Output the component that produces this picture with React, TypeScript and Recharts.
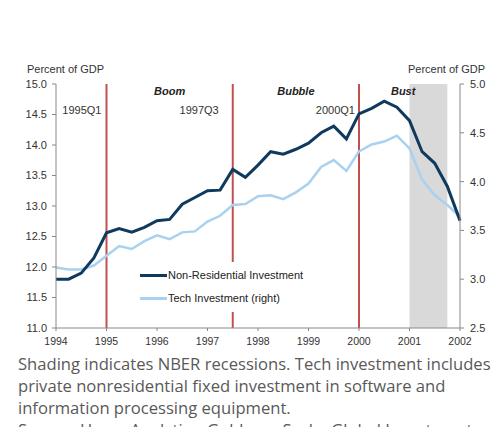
import React from 'react';
import {
  ComposedChart,
  Line,
  XAxis,
  YAxis,
  ReferenceLine,
  ReferenceArea,
} from 'recharts';

// quarterly observations, 1994Q1 - 2002Q1
const quarters = [
  '1994Q1', '1994Q2', '1994Q3', '1994Q4',
  '1995Q1', '1995Q2', '1995Q3', '1995Q4',
  '1996Q1', '1996Q2', '1996Q3', '1996Q4',
  '1997Q1', '1997Q2', '1997Q3', '1997Q4',
  '1998Q1', '1998Q2', '1998Q3', '1998Q4',
  '1999Q1', '1999Q2', '1999Q3', '1999Q4',
  '2000Q1', '2000Q2', '2000Q3', '2000Q4',
  '2001Q1', '2001Q2', '2001Q3', '2001Q4',
  '2002Q1',
];

// Non-residential investment, % of GDP (left axis)
const nonResidential = [
  11.8, 11.8, 11.9, 12.15,
  12.56, 12.63, 12.57, 12.65,
  12.76, 12.78, 13.03, 13.14,
  13.25, 13.26, 13.6, 13.47,
  13.67, 13.89, 13.85, 13.93,
  14.03, 14.2, 14.31, 14.1,
  14.51, 14.6, 14.72, 14.62,
  14.4, 13.89, 13.7, 13.32,
  12.76,
];

// Tech investment, % of GDP (right axis)
const techInvestment = [
  3.12, 3.1, 3.1, 3.14,
  3.24, 3.34, 3.31, 3.39,
  3.45, 3.41, 3.48, 3.49,
  3.59, 3.65, 3.76, 3.77,
  3.85, 3.86, 3.82, 3.89,
  3.98, 4.15, 4.22, 4.11,
  4.31, 4.38, 4.41, 4.47,
  4.34, 4.02, 3.86, 3.76,
  3.64,
];

const yearTicks = [1994, 1995, 1996, 1997, 1998, 1999, 2000, 2001, 2002];
const leftTicks = [11.0, 11.5, 12.0, 12.5, 13.0, 13.5, 14.0, 14.5, 15.0];
const rightTicks = [2.5, 3.0, 3.5, 4.0, 4.5, 5.0];

const events = ['1995Q1', '1997Q3', '2000Q1'];
const phases = [
  { name: 'Boom', from: '1995Q1', to: '1997Q3' },
  { name: 'Bubble', from: '1997Q3', to: '2000Q1' },
  { name: 'Bust', from: '2000Q1', to: '2001Q4' },
];
const recession = { from: '2001Q1', to: '2001Q4' };

const captionLines = [
  'Shading indicates NBER recessions. Tech investment includes',
  'private nonresidential fixed investment in software and',
  'information processing equipment.',
  'Source: Haver Analytics, Goldman Sachs Global Investment',
];

// how far the event labels sit to the left of their line
const eventLabelGap: Record<string, number> = { '1995Q1': 5, '1997Q3': 14, '2000Q1': 4 };

const toYear = (q: string) => Number(q.slice(0, 4)) + (Number(q.slice(5)) - 1) / 4;

const data = quarters.map((q, i) => ({
  t: toYear(q),
  nonRes: nonResidential[i],
  tech: techInvestment[i],
}));

const FONT = '"Liberation Sans", Arial, sans-serif';
const DARK = '#0f3a5e';
const LIGHT = '#a9d1f0';
const RED = '#c0504d';
const AXIS = '#888888';

const tickStyle = { fill: '#333', fontSize: 11, fontFamily: FONT };

export default function App() {
  return (
    <div style={{ position: 'relative', width: 500, height: 435, margin: -8, overflow: 'hidden', background: '#fff' }}>
      <div style={{ position: 'absolute', left: 27, top: 63, fontFamily: FONT, fontSize: 11, color: '#333' }}>
        Percent of GDP
      </div>
      <div style={{ position: 'absolute', left: 408, top: 63, fontFamily: FONT, fontSize: 11, color: '#333' }}>
        Percent of GDP
      </div>

      <ComposedChart
        width={500}
        height={350}
        data={data}
        margin={{ top: 84, right: 0, bottom: 0, left: 0 }}
        style={{ position: 'absolute', left: 0, top: 0 }}
      >
        <XAxis
          dataKey="t"
          type="number"
          domain={[1994, 2002]}
          ticks={yearTicks}
          height={22}
          stroke={AXIS}
          tickSize={3}
          tickMargin={7}
          tick={{ ...tickStyle, fontSize: 10.5 }}
        />
        <YAxis
          yAxisId="left"
          domain={[11, 15]}
          ticks={leftTicks}
          width={56}
          stroke={AXIS}
          tickSize={4}
          tickMargin={5}
          tick={tickStyle}
          tickFormatter={(v: number) => v.toFixed(1)}
          allowDataOverflow
        />
        <YAxis
          yAxisId="right"
          orientation="right"
          domain={[2.5, 5]}
          ticks={rightTicks}
          width={40}
          stroke={AXIS}
          tickSize={4}
          tickMargin={6}
          tick={tickStyle}
          tickFormatter={(v: number) => v.toFixed(1)}
          allowDataOverflow
        />

        <ReferenceArea
          yAxisId="left"
          x1={toYear(recession.from)}
          x2={toYear(recession.to)}
          fill="#d9d9d9"
          fillOpacity={1}
          stroke="none"
        />

        {phases.map((p) => (
          <ReferenceArea
            key={p.name}
            yAxisId="left"
            x1={toYear(p.from)}
            x2={toYear(p.to)}
            fillOpacity={0}
            stroke="none"
            label={{
              value: p.name,
              position: 'insideTop',
              offset: 3,
              fill: '#222',
              fontSize: 11,
              fontWeight: 'bold',
              fontStyle: 'italic',
              fontFamily: FONT,
            }}
          />
        ))}

        {events.map((e) => (
          <ReferenceLine
            key={e}
            yAxisId="left"
            x={toYear(e)}
            stroke={RED}
            strokeWidth={2}
            label={(props: any) => (
              <text
                x={props.viewBox.x - eventLabelGap[e]}
                y={props.viewBox.y + 30}
                textAnchor="end"
                fill="#333"
                fontSize={11}
                fontFamily={FONT}
              >
                {e}
              </text>
            )}
          />
        ))}

        <Line
          yAxisId="right"
          dataKey="tech"
          name="Tech Investment (right)"
          stroke={LIGHT}
          strokeWidth={2.5}
          dot={false}
          isAnimationActive={false}
        />
        <Line
          yAxisId="left"
          dataKey="nonRes"
          name="Non-Residential Investment"
          stroke={DARK}
          strokeWidth={3}
          dot={false}
          isAnimationActive={false}
        />
      </ComposedChart>

      {/* legend box (white, covers the 1997Q3 line) */}
      <div
        style={{
          position: 'absolute',
          left: 136,
          top: 262,
          width: 176,
          height: 50,
          background: '#fff',
          fontFamily: FONT,
          fontSize: 11,
          color: '#222',
        }}
      >
        {[
          { label: 'Non-Residential Investment', color: DARK, top: 6 },
          { label: 'Tech Investment (right)', color: LIGHT, top: 29 },
        ].map((item) => (
          <div key={item.label} style={{ position: 'absolute', left: 4, top: item.top, display: 'flex', alignItems: 'center', height: 14 }}>
            <span style={{ display: 'inline-block', width: 27, height: 3, background: item.color, marginRight: 1 }} />
            <span style={{ whiteSpace: 'nowrap' }}>{item.label}</span>
          </div>
        ))}
      </div>

      <div
        style={{
          position: 'absolute',
          left: 18,
          top: 353,
          fontFamily: '"Open Sans", sans-serif',
          fontSize: 16.6,
          lineHeight: '22px',
          color: '#595959',
          whiteSpace: 'nowrap',
        }}
      >
        {captionLines.map((l) => (
          <div key={l}>{l}</div>
        ))}
      </div>
    </div>
  );
}
